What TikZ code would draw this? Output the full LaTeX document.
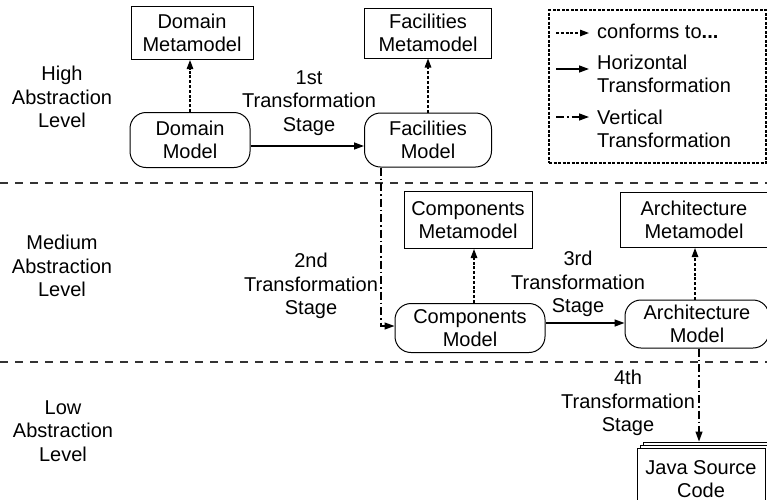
\documentclass[tikz,border=0pt]{standalone}
\usepackage{fontspec}
\setmainfont{Liberation Sans}
\usetikzlibrary{arrows.meta,shadows}

\tikzset{
  meta/.style={draw, line width=1pt, align=center, inner sep=2pt},
  model/.style={draw, rounded corners=16pt, line width=1pt, align=center, inner sep=2pt},
  lbl/.style={align=center, inner sep=0pt},
  keytext/.style={align=left, anchor=west, inner sep=0pt},
  conf/.style={-{Triangle[length=9pt,width=6.5pt]}, line width=1.3pt, dash pattern=on 3pt off 1.8pt},
  htrans/.style={-{Triangle[length=10pt,width=7pt]}, line width=1.4pt},
  vtrans/.style={-{Triangle[length=10pt,width=7pt]}, line width=1.3pt, dash pattern=on 8pt off 3pt on 1.5pt off 3pt},
  sep/.style={line width=1.4pt, black!80, dash pattern=on 8pt off 7pt},
  legend/.style={draw, line width=1.1pt, dash pattern=on 3pt off 1.5pt, minimum width=217pt, minimum height=153pt}
}

\begin{document}
\begin{tikzpicture}[x=1pt, y=-1pt, every node/.style={font=\fontsize{20}{23.5}\selectfont}]
\useasboundingbox (0,0) rectangle (767,499);
\clip (0,0) rectangle (767,499);

% abstraction levels
\draw[sep] (0,183) -- (767,183);
\draw[sep] (0,362) -- (767,362);
\node[lbl] (high) at (62,97) {High\\Abstraction\\Level};
\node[lbl] (medium) at (62,266) {Medium\\Abstraction\\Level};
\node[lbl] (low) at (63,431) {Low\\Abstraction\\Level};

% models and metamodels
\node[meta, minimum width=122pt, minimum height=53pt] (dommeta) at (192,33) {Domain\\Metamodel};
\node[model, minimum width=120pt, minimum height=55pt] (dommod) at (190,140) {Domain\\Model};
\node[meta, minimum width=127pt, minimum height=50pt] (facmeta) at (428,33) {Facilities\\Metamodel};
\node[model, minimum width=127pt, minimum height=54pt] (facmod) at (428,140) {Facilities\\Model};
\node[meta, minimum width=128pt, minimum height=57pt] (compmeta) at (468,220) {Components\\Metamodel};
\node[model, minimum width=150pt, minimum height=49pt] (compmod) at (470,328) {Components\\Model};
\node[meta, minimum width=148pt, minimum height=55pt] (archmeta) at (694,220) {Architecture\\Metamodel};
\node[model, minimum width=144pt, minimum height=48pt] (archmod) at (697,324) {Architecture\\Model};
\node[draw, fill=white, line width=1pt, align=center, minimum width=128pt, minimum height=62pt,
  double copy shadow={shadow xshift=3pt, shadow yshift=3pt, line width=1pt}] (java) at (701,479) {Java Source\\Code};

% stage labels
\node[lbl] (st1) at (309,103) {1st\\Transformation\\Stage};
\node[lbl] (st2) at (311,286) {2nd\\Transformation\\Stage};
\node[lbl] (st3) at (578,284) {3rd\\Transformation\\Stage};
\node[lbl] (st4) at (628,403) {4th\\Transformation\\Stage};

% connectors
\draw[conf] (dommod.north) -- (dommod.north |- dommeta.south);
\draw[htrans] ([yshift=-6pt]dommod.east) -- ([yshift=-6pt]facmod.west);
\draw[conf] (facmod.north) -- (facmod.north |- facmeta.south);
\draw[vtrans] ([xshift=-47pt]facmod.south) |- ([yshift=2pt]compmod.west);
\draw[conf] ([xshift=4pt]compmod.north) -- ([xshift=4pt]compmod.north |- compmeta.south);
\draw[htrans] ([yshift=5pt]compmod.east) -- ([yshift=1pt]archmod.west);
\draw[conf] ([xshift=-2pt]archmod.north) -- ([xshift=-2pt]archmod.north |- archmeta.south);
\draw[vtrans] ([xshift=2pt]archmod.south) -- ([xshift=-2pt,yshift=6pt]java.north);

% legend
\node[legend] (key) at (657.5,86.5) {};
\coordinate (k1a) at (556,33);  \coordinate (k1b) at (589,33);
\coordinate (k2a) at (556,69);  \coordinate (k2b) at (589,69);
\coordinate (k3a) at (556,117); \coordinate (k3b) at (589,117);
\draw[conf] (k1a) -- (k1b);
\draw[htrans] (k2a) -- (k2b);
\draw[vtrans] (k3a) -- (k3b);
\node[keytext] (kconf) at (597,31) {conforms to\textbf{...}};
\node[keytext] (khor) at (597,74) {Horizontal\\Transformation};
\node[keytext] (kver) at (597,129) {Vertical\\Transformation};
\end{tikzpicture}
\end{document}
